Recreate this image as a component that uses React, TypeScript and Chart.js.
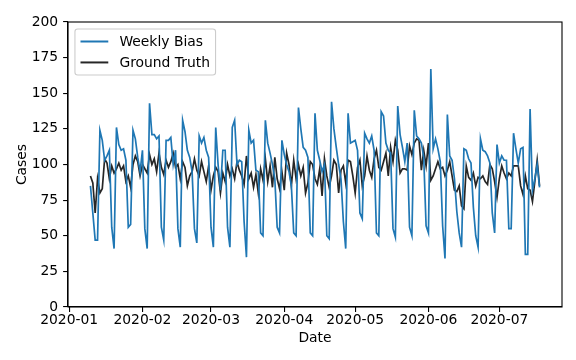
import React, { useEffect, useRef } from "react";
import { Chart, registerables } from "chart.js";

Chart.register(...registerables);

// ---------------- data ----------------
const startDate = "2020-01-10"; // first daily observation
const monthTicks = ["2020-01", "2020-02", "2020-03", "2020-04", "2020-05", "2020-06", "2020-07"];
const yTicks = [0, 25, 50, 75, 100, 125, 150, 175, 200];

const weeklyBias = [
  85, 66, 47, 47,
  124, 117, 103, 106, 110, 56, 41,
  126, 114, 110, 111, 103, 56, 58,
  124, 118, 105, 95, 110, 55, 41,
  143, 121, 121, 118, 120, 56, 47,
  117, 117, 119, 100, 110, 55, 42,
  131, 123, 110, 105, 95, 55, 45,
  120, 115, 119, 110, 105, 56, 42,
  126, 100, 82, 110, 110, 56, 42,
  126, 131, 100, 103, 102, 60, 35,
  124, 115, 117, 96, 95, 52, 50,
  131, 115, 108, 100, 90, 56, 52,
  117, 107, 100, 95, 85, 52, 50,
  140, 125, 112, 110, 105, 52, 50,
  136, 110, 103, 95, 100, 50, 48,
  144, 125, 112, 100, 90, 60, 41,
  136, 115, 116, 117, 110, 66, 62,
  122, 118, 115, 120, 110, 52, 50,
  137, 134, 115, 110, 108, 55, 49,
  141, 121, 112, 102, 115, 56, 50,
  138, 120, 118, 115, 105, 57, 52,
  167, 111, 118, 111, 102, 57, 34,
  135, 106, 103, 90, 67, 52, 42,
  111, 110, 104, 101, 70, 50, 42,
  118, 110, 109, 106, 101, 66, 52,
  114, 101, 106, 103, 103, 55, 55,
  122, 111, 101, 111, 112, 37, 37,
  139, 82, 90, 100, 84,
];

const groundTruth = [
  92, 87, 66, 90,
  80, 83, 104, 101, 90, 99, 94,
  97, 101, 96, 99, 88, 92, 84,
  100, 106, 102, 92, 100, 97, 94,
  107, 100, 104, 95, 108, 98, 93,
  103, 98, 102, 108, 98, 100, 90,
  102, 98, 85, 92, 95, 104, 96,
  92, 102, 95, 88, 99, 82, 92,
  98, 95, 80, 94, 88, 100, 92,
  97, 90, 102, 96, 92, 86, 106,
  90, 94, 84, 93, 80, 97, 89,
  104, 88, 99, 84, 105, 90, 83,
  95, 82, 108, 100, 85, 103, 90,
  100, 92, 98, 80, 87, 102, 100,
  90, 86, 97, 78, 104, 92, 84,
  92, 103, 100, 80, 96, 99, 87,
  103, 102, 92, 80, 98, 103, 85,
  92, 106, 96, 91, 104, 110, 98,
  96, 102, 108, 92, 112, 102, 117,
  110, 94, 97, 97, 96, 113, 107,
  115, 118, 117, 96, 110, 99, 115,
  89, 92, 97, 102, 97, 98, 92,
  96, 102, 92, 82, 81, 85, 71,
  69, 99, 91, 89, 94, 85, 91,
  90, 92, 88, 86, 100, 97, 88,
  77, 90, 99, 94, 90, 94, 92,
  99, 99, 99, 85, 79, 92, 83,
  82, 74, 88, 103, 85,
];

const seriesLabels = ["Weekly Bias", "Ground Truth"];

// ---------------- helpers ----------------
const DAY_MS = 86400000;
const ORIGIN = Date.UTC(2020, 0, 1);
function dayOffset(iso: string): number {
  const [y, m, d] = iso.split("-").map(Number);
  return (Date.UTC(y, m - 1, d || 1) - ORIGIN) / DAY_MS;
}

const FS = 13.89;
const FONT_FAMILY = "'DejaVu Sans', 'Liberation Sans', sans-serif";
const font = { family: FONT_FAMILY, size: FS };
const BLUE = "#1f77b4";
const DARK = "rgba(0,0,0,0.85)";

const framePlugin = {
  id: "frame",
  afterDatasetsDraw(chart: any) {
    const { ctx, chartArea: a } = chart;
    ctx.save();
    ctx.strokeStyle = "#000";
    ctx.lineWidth = 1.1;
    ctx.strokeRect(a.left, a.top, a.right - a.left, a.bottom - a.top);
    ctx.restore();
  },
};

const legendPlugin = {
  id: "mplLegend",
  afterDraw(chart: any) {
    const { ctx, chartArea: a } = chart;
    const pad = 0.4 * FS;
    const axPad = 0.5 * FS;
    const handle = 2 * FS;
    const textPad = 0.8 * FS;
    const rowH = 14;
    const spacing = 0.5 * FS;
    ctx.save();
    ctx.font = `${FS}px ${FONT_FAMILY}`;
    const tw = Math.max(...seriesLabels.map((s) => ctx.measureText(s).width));
    const x0 = a.left + axPad;
    const y0 = a.top + axPad;
    const w = pad + handle + textPad + tw + pad;
    const h = pad * 2 + rowH * 2 + spacing;
    const r = 0.2 * FS;
    ctx.beginPath();
    ctx.moveTo(x0 + r, y0);
    ctx.lineTo(x0 + w - r, y0);
    ctx.quadraticCurveTo(x0 + w, y0, x0 + w, y0 + r);
    ctx.lineTo(x0 + w, y0 + h - r);
    ctx.quadraticCurveTo(x0 + w, y0 + h, x0 + w - r, y0 + h);
    ctx.lineTo(x0 + r, y0 + h);
    ctx.quadraticCurveTo(x0, y0 + h, x0, y0 + h - r);
    ctx.lineTo(x0, y0 + r);
    ctx.quadraticCurveTo(x0, y0, x0 + r, y0);
    ctx.closePath();
    ctx.fillStyle = "rgba(255,255,255,0.8)";
    ctx.fill();
    ctx.strokeStyle = "#cccccc";
    ctx.lineWidth = 1.1;
    ctx.stroke();
    const colors = [BLUE, DARK];
    seriesLabels.forEach((lab, i) => {
      const cy = y0 + pad + rowH / 2 + i * (rowH + spacing);
      ctx.beginPath();
      ctx.moveTo(x0 + pad, cy);
      ctx.lineTo(x0 + pad + handle, cy);
      ctx.strokeStyle = colors[i];
      ctx.lineWidth = 2;
      ctx.stroke();
      ctx.fillStyle = "#000";
      ctx.textAlign = "left";
      ctx.textBaseline = "middle";
      ctx.fillText(lab, x0 + pad + handle + textPad, cy + 1);
    });
    ctx.restore();
  },
};

export default function App() {
  const ref = useRef<HTMLCanvasElement | null>(null);
  useEffect(() => {
    if (!ref.current) return;
    const x0 = dayOffset(startDate);
    const toPts = (arr: number[]) => arr.map((v, i) => ({ x: x0 + i, y: v }));
    const n = weeklyBias.length;
    const span = n - 1;
    const xmin = x0 - span * 0.05;
    const xmax = x0 + span * 1.05;
    const monthVals = monthTicks.map((m) => dayOffset(m + "-01"));

    const chart = new Chart(ref.current, {
      type: "line",
      data: {
        datasets: [
          {
            label: seriesLabels[0],
            data: toPts(weeklyBias),
            borderColor: BLUE,
            borderWidth: 1.7,
            pointRadius: 0,
            tension: 0,
            fill: false,
          },
          {
            label: seriesLabels[1],
            data: toPts(groundTruth),
            borderColor: DARK,
            borderWidth: 1.7,
            pointRadius: 0,
            tension: 0,
            fill: false,
          },
        ],
      },
      options: {
        responsive: false,
        animation: false,
        events: [],
        layout: { padding: { left: 0, top: 22, right: 14, bottom: 0 } },
        plugins: { legend: { display: false }, tooltip: { enabled: false } },
        scales: {
          x: {
            type: "linear",
            min: xmin,
            max: xmax,
            afterBuildTicks: (s: any) => {
              s.ticks = monthVals.map((v) => ({ value: v }));
            },
            ticks: {
              autoSkip: false,
              maxRotation: 0,
              font,
              color: "#000",
              padding: 0,
              callback: (v: any) => {
                const idx = monthVals.indexOf(Number(v));
                return idx >= 0 ? monthTicks[idx] : "";
              },
            },
            grid: { drawOnChartArea: false, drawTicks: true, tickLength: 4.9, color: "#000", lineWidth: 1.1 },
            border: { display: true, color: "#000", width: 1.1 },
            title: { display: true, text: "Date", font, color: "#000", padding: { top: 0, bottom: 13.7 } },
            afterFit: (s: any) => {
              s.height = 53;
            },
          },
          y: {
            type: "linear",
            min: 0,
            max: 200,
            afterBuildTicks: (s: any) => {
              s.ticks = yTicks.map((v) => ({ value: v }));
            },
            ticks: { font, color: "#000", padding: 4.9, autoSkip: false },
            grid: { drawOnChartArea: false, drawTicks: true, tickLength: 4.9, color: "#000", lineWidth: 1.1 },
            border: { display: true, color: "#000", width: 1.1 },
            title: { display: true, text: "Cases", font, color: "#000", padding: { top: 13.7, bottom: 0 } },
            afterFit: (s: any) => {
              s.width = 68;
            },
          },
        },
      },
      plugins: [framePlugin, legendPlugin],
    });
    return () => chart.destroy();
  }, []);

  return (
    <div style={{ position: "fixed", left: 0, top: 0, width: 576, height: 360, background: "#fff" }}>
      <canvas ref={ref} width={576} height={360} style={{ display: "block", width: 576, height: 360 }} />
    </div>
  );
}
